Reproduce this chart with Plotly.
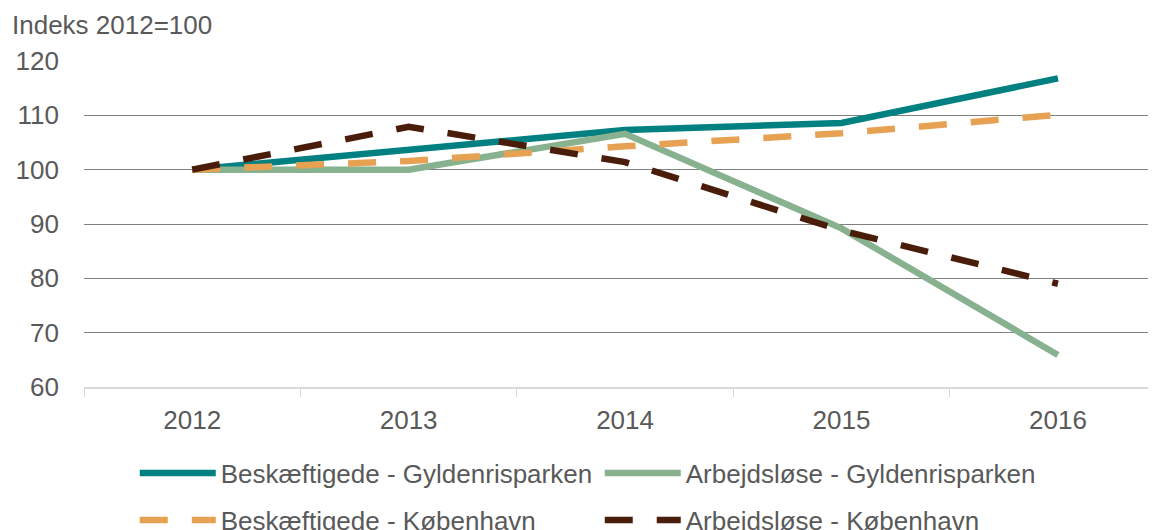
import plotly.graph_objects as go

years = ["2012", "2013", "2014", "2015", "2016"]
besk_gyld = [100, 103.6, 107.3, 108.6, 116.8]
arb_gyld = [100, 100, 106.6, 89.2, 65.9]
besk_kbh = [100, 101.6, 104.3, 106.7, 110.1]
arb_kbh = [100, 107.9, 101.4, 88.8, 79.0]

names = ["Beskæftigede - Gyldenrisparken", "Arbejdsløse - Gyldenrisparken",
         "Beskæftigede - København", "Arbejdsløse - København"]
colors = ["#008080", "#87b18f", "#e6a152", "#4a1c0a"]
dashes = ["solid", "solid", "28px,24px", "28px,24px"]
legends = ["legend", "legend", "legend2", "legend2"]
series = [besk_gyld, arb_gyld, besk_kbh, arb_kbh]

fig = go.Figure()
for n, c, d, lg, s in zip(names, colors, dashes, legends, series):
    fig.add_trace(go.Scatter(x=years, y=s, name=n, mode="lines",
                             line=dict(color=c, width=6.5, dash=d),
                             legend=lg))

font = "Liberation Sans, Arial, sans-serif"
txt = "#595959"
fs = 26
leg_common = dict(orientation="h", xref="paper", x=0.047, xanchor="left",
                  yref="container", yanchor="middle",
                  entrywidth=374, entrywidthmode="pixels", itemwidth=76,
                  font=dict(size=fs, color=txt), bgcolor="rgba(0,0,0,0)")
fig.update_layout(
    width=1156, height=530,
    margin=dict(l=76, r=0, t=53, b=151),
    plot_bgcolor="white", paper_bgcolor="white",
    font=dict(family=font, size=fs, color=txt),
    xaxis=dict(type="category", range=[-0.5, 4.49], showgrid=False, automargin=False,
               showline=True, linecolor="#d9d9d9", linewidth=1.5,
               ticks="outside", tickson="boundaries", ticklen=8,
               ticklabelstandoff=9,
               tickcolor="#d9d9d9", tickfont=dict(size=fs, color=txt)),
    yaxis=dict(range=[60, 120], tickvals=[60, 70, 80, 90, 100, 110, 120],
               showgrid=True, gridcolor="#808080", gridwidth=1, automargin=False,
               zeroline=False, showline=False, ticks="",
               ticklabelstandoff=24,
               tickfont=dict(size=fs, color=txt)),
    legend=dict(leg_common, y=1 - 465 / 530),
    legend2=dict(leg_common, y=1 - 512 / 530),
)
fig.add_annotation(text="Indeks 2012=100", xref="paper", yref="paper",
                   x=-0.0685, y=1.11, xanchor="left", yanchor="middle",
                   showarrow=False, font=dict(size=fs, color=txt))
fig.write_html("out.html")
